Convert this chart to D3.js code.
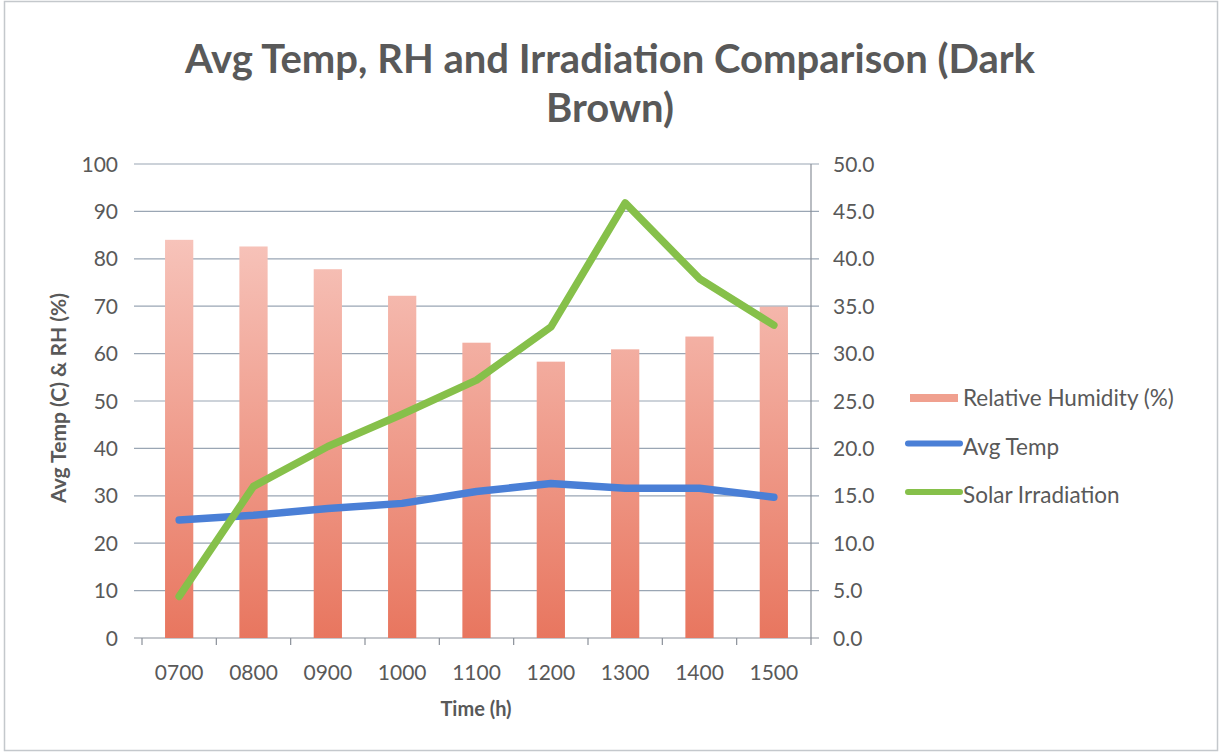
<!DOCTYPE html>
<html>
<head>
<meta charset="utf-8">
<script src="https://cdn.jsdelivr.net/npm/d3@7"></script>
<style>
  body { margin: 0; background: #fff; }
  text { font-family: Lato, "Open Sans", sans-serif; fill: #595959; }
</style>
</head>
<body>
<svg id="chart" width="1219" height="753"></svg>
<script>
// chart data
var times = ["0700", "0800", "0900", "1000", "1100", "1200", "1300", "1400", "1500"];
var humidity = [84, 82.6, 77.8, 72.2, 62.3, 58.3, 60.9, 63.6, 69.9];   // left axis
var avgTemp = [24.9, 25.9, 27.3, 28.4, 30.9, 32.6, 31.6, 31.6, 29.7];  // left axis
var solar = [4.4, 16.0, 20.2, 23.6, 27.2, 32.8, 45.9, 37.9, 33.0];      // right axis
var leftTicks = [0, 10, 20, 30, 40, 50, 60, 70, 80, 90, 100];
var rightTicks = [0, 5, 10, 15, 20, 25, 30, 35, 40, 45, 50];

var svg = d3.select("#chart");

// frame round the whole chart
svg.append("rect")
    .attr("x", 4.5).attr("y", 1.5)
    .attr("width", 1213).attr("height", 749)
    .attr("fill", "none")
    .attr("stroke", "#c4c8cc")
    .attr("stroke-width", 1.5);

// plot area (note: "top" is taken by window.top)
var plotLeft = 142, plotRight = 811, plotTop = 164, plotBottom = 638;

var x = d3.scaleBand()
    .domain(times)
    .range([plotLeft, plotRight])
    .paddingInner(0.62)
    .paddingOuter(0.31);

var yL = d3.scaleLinear().domain([0, 100]).range([plotBottom, plotTop]);
var yR = d3.scaleLinear().domain([0, 50]).range([plotBottom, plotTop]);

// bar gradient
var defs = svg.append("defs");
var grad = defs.append("linearGradient")
    .attr("id", "rhGrad")
    .attr("gradientUnits", "userSpaceOnUse")
    .attr("x1", 0).attr("x2", 0)
    .attr("y1", yL(85)).attr("y2", plotBottom);
grad.append("stop").attr("offset", "0%").attr("stop-color", "#f7c4bb");
grad.append("stop").attr("offset", "100%").attr("stop-color", "#e8765f");

// gridlines
svg.append("g")
    .selectAll("line")
    .data(leftTicks)
    .enter()
    .append("line")
    .attr("x1", plotLeft - 8)
    .attr("x2", plotRight + 8)
    .attr("y1", function (d) { return yL(d) })
    .attr("y2", function (d) { return yL(d) })
    .attr("stroke", function (d) { return d == 0 ? "#8a9099" : "#9aa6b4" })
    .attr("stroke-width", 1.2);

// right axis line
svg.append("line")
    .attr("x1", plotRight).attr("x2", plotRight)
    .attr("y1", plotTop).attr("y2", plotBottom)
    .attr("stroke", "#8a9099").attr("stroke-width", 1.2);

// x ticks at category boundaries
var bounds = d3.range(times.length + 1).map(function (i) { return plotLeft + i * (plotRight - plotLeft) / times.length });
svg.append("g")
    .selectAll("line")
    .data(bounds)
    .enter()
    .append("line")
    .attr("x1", function (d) { return d })
    .attr("x2", function (d) { return d })
    .attr("y1", plotBottom)
    .attr("y2", plotBottom + 7)
    .attr("stroke", "#8a9099")
    .attr("stroke-width", 1.2);

// bars
svg.append("g")
    .selectAll("rect")
    .data(humidity)
    .enter()
    .append("rect")
    .attr("x", function (d, i) { return x(times[i]) })
    .attr("width", x.bandwidth())
    .attr("y", function (d) { return yL(d) })
    .attr("height", function (d) { return plotBottom - yL(d) })
    .attr("fill", "url(#rhGrad)");

var cx = function (d, i) { return x(times[i]) + x.bandwidth() / 2 };

// avg temp line
svg.append("path")
    .datum(avgTemp)
    .attr("fill", "none")
    .attr("stroke", "#4a7fd6")
    .attr("stroke-width", 7.5)
    .attr("stroke-linejoin", "round")
    .attr("stroke-linecap", "round")
    .attr("d", d3.line().x(cx).y(function (d) { return yL(d) }));

// solar irradiation line
svg.append("path")
    .datum(solar)
    .attr("fill", "none")
    .attr("stroke", "#86c04a")
    .attr("stroke-width", 7.5)
    .attr("stroke-linejoin", "round")
    .attr("stroke-linecap", "round")
    .attr("d", d3.line().x(cx).y(function (d) { return yR(d) }));

// left tick labels
svg.append("g")
    .selectAll("text")
    .data(leftTicks)
    .enter()
    .append("text")
    .attr("x", 118)
    .attr("y", function (d) { return yL(d) })
    .attr("dy", "0.36em")
    .attr("text-anchor", "end")
    .style("font-size", "21px")
    .text(function (d) { return d });

// right tick labels
svg.append("g")
    .selectAll("text")
    .data(rightTicks)
    .enter()
    .append("text")
    .attr("x", 833)
    .attr("y", function (d) { return yR(d) })
    .attr("dy", "0.36em")
    .style("font-size", "21px")
    .text(function (d) { return d.toFixed(1) });

// x labels
svg.append("g")
    .selectAll("text")
    .data(times)
    .enter()
    .append("text")
    .attr("x", function (d) { return x(d) + x.bandwidth() / 2 })
    .attr("y", 672)
    .attr("dy", "0.36em")
    .attr("text-anchor", "middle")
    .style("font-size", "21px")
    .text(function (d) { return d });

// axis titles
svg.append("text")
    .attr("x", 476).attr("y", 709)
    .attr("dy", "0.36em")
    .attr("text-anchor", "middle")
    .style("font-size", "20px").style("font-weight", "bold")
    .text("Time (h)");

svg.append("text")
    .attr("transform", "translate(58,398) rotate(-90)")
    .attr("dy", "0.36em")
    .attr("text-anchor", "middle")
    .style("font-size", "21px").style("font-weight", "bold")
    .text("Avg Temp (C) & RH (%)");

// title
var title = svg.append("text")
    .attr("text-anchor", "middle")
    .style("font-size", "40px").style("font-weight", "bold");
title.append("tspan").attr("x", 610).attr("y", 73).text("Avg Temp, RH and Irradiation Comparison (Dark");
title.append("tspan").attr("x", 610).attr("y", 122).text("Brown)");

// legend
var legend = [
    { name: "Relative Humidity (%)", type: "bar", color: "#f0a08f" },
    { name: "Avg Temp", type: "line", color: "#4a7fd6" },
    { name: "Solar Irradiation", type: "line", color: "#86c04a" }
];
var lg = svg.append("g")
    .selectAll("g")
    .data(legend)
    .enter()
    .append("g")
    .attr("transform", function (d, i) { return "translate(0," + (398 + i * 48.5) + ")" });

lg.filter(function (d) { return d.type == "bar" })
    .append("rect")
    .attr("x", 910).attr("y", -4)
    .attr("width", 48).attr("height", 8)
    .attr("fill", function (d) { return d.color });

lg.filter(function (d) { return d.type == "line" })
    .append("line")
    .attr("x1", 908).attr("x2", 960)
    .attr("y1", -3).attr("y2", -3)
    .attr("stroke", function (d) { return d.color })
    .attr("stroke-width", 6)
    .attr("stroke-linecap", "round");

lg.append("text")
    .attr("x", 963)
    .attr("dy", "0.36em")
    .style("font-size", "22.5px")
    .text(function (d) { return d.name });
</script>
</body>
</html>
